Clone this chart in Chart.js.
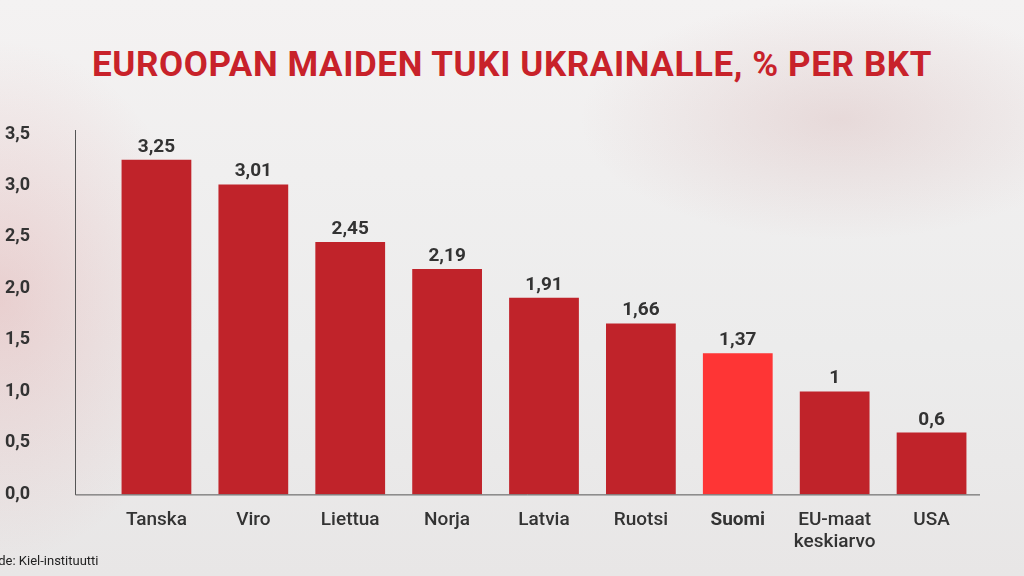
<!DOCTYPE html>
<html lang="fi">
<head>
<meta charset="UTF-8" />
<title>Tuki Ukrainalle</title>
<style>
  html, body { margin: 0; padding: 0; width: 1024px; height: 576px; overflow: hidden; }
  body {
    background:
      radial-gradient(ellipse 260px 120px at 840px 120px, rgba(200,150,150,0.25), transparent),
      radial-gradient(ellipse 200px 260px at 0px 300px, rgba(220,120,120,0.25), transparent),
      linear-gradient(180deg, #f4f2f2 0%, #ececec 60%, #e8e6e6 100%);
    font-family: Roboto, "Noto Sans", sans-serif;
    position: relative;
  }
  #title { position: absolute; top: 44px; left: 0; width: 1024px; text-align: center;
    color: #c8222a; font-weight: 700; font-size: 35px; letter-spacing: 0.6px; }
  #src { position: absolute; left: -23px; top: 553px; font-size: 13px; color: #222; }
  #wrap { position: absolute; left: 0; top: 0; width: 1024px; height: 576px; }
</style>
</head>
<body>
<div id="title">EUROOPAN MAIDEN TUKI UKRAINALLE, % PER BKT</div>
<div id="wrap"><canvas id="myChart" width="1024" height="576"></canvas></div>
<div id="src">Lähde: Kiel-instituutti</div>
<script src="https://cdn.jsdelivr.net/npm/chart.js@4/dist/chart.umd.min.js"></script>
<script>
const countries = ["Tanska", "Viro", "Liettua", "Norja", "Latvia", "Ruotsi", "Suomi", ["EU-maat", "keskiarvo"], "USA"];
const support = [3.25, 3.01, 2.45, 2.19, 1.91, 1.66, 1.37, 1, 0.6];
const valueLabels = ["3,25", "3,01", "2,45", "2,19", "1,91", "1,66", "1,37", "1", "0,6"];
const highlight = 6;

const fmt = v => v.toFixed(1).replace(".", ",");

const extras = {
  id: "extras",
  afterDraw(chart) {
    const ctx = chart.ctx, y = chart.scales.y, meta = chart.getDatasetMeta(0);
    ctx.save();
    ctx.strokeStyle = "#555"; ctx.lineWidth = 1;
    ctx.beginPath();
    ctx.moveTo(75.5, y.getPixelForValue(3.5) - 4);
    ctx.lineTo(75.5, y.getPixelForValue(0) + 0.5);
    ctx.lineTo(chart.chartArea.right, y.getPixelForValue(0) + 0.5);
    ctx.stroke();
    ctx.fillStyle = "#333"; ctx.font = "bold 19px Roboto"; ctx.textAlign = "center";
    meta.data.forEach((bar, i) => ctx.fillText(valueLabels[i], bar.x, bar.y - 8));
    ctx.restore();
  }
};

new Chart("myChart", {
  type: "bar",
  data: {
    labels: countries,
    datasets: [{
      data: support,
      backgroundColor: support.map((v, i) => i === highlight ? "#fe3535" : "#c0232a"),
      categoryPercentage: 0.72, barPercentage: 1
    }]
  },
  options: {
    responsive: false, animation: false,
    layout: { padding: { top: 134, right: 44, left: 0, bottom: 16 } },
    plugins: { legend: { display: false }, tooltip: { enabled: false } },
    scales: {
      x: {
        grid: { display: false }, border: { display: false },
        ticks: {
          color: "#333", font: (c) => ({ family: "Roboto", size: 19, weight: c.index === highlight ? "bold" : "500" }),
          padding: 6, maxRotation: 0
        }
      },
      y: {
        min: 0, max: 3.5, afterFit: (s) => { s.width = 108; },
        grid: { display: false },
        border: { display: false },
        ticks: { stepSize: 0.5, callback: fmt, color: "#333", font: { family: "Roboto", size: 18, weight: "bold" }, padding: 70 }
      }
    }
  },
  plugins: [extras]
});
</script>
</body>
</html>
